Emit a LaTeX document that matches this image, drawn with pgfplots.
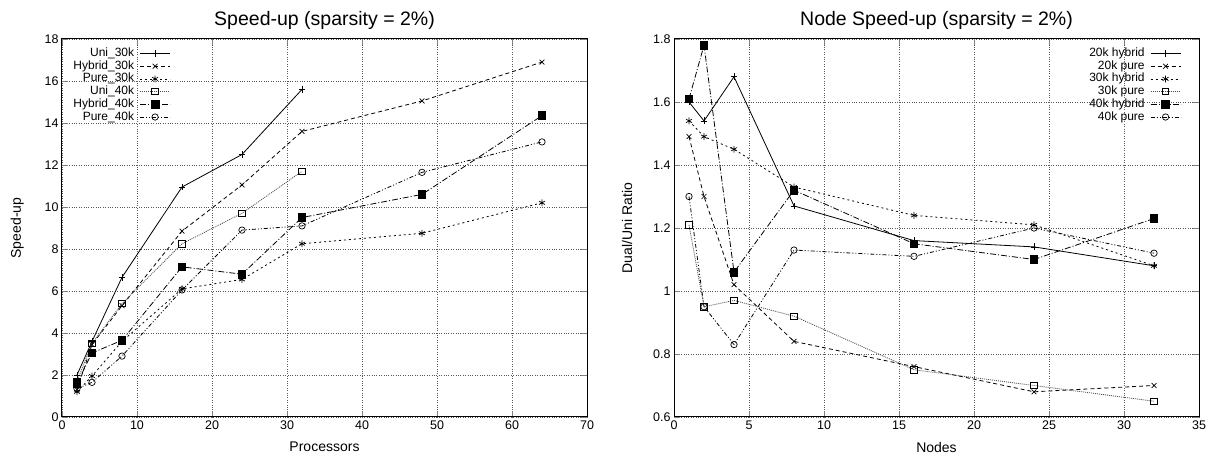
\documentclass[border=0pt]{standalone}
\usepackage{pgfplots}
\pgfplotsset{compat=1.18}
\usepackage{fontspec}
\setmainfont{Liberation Sans}
\begin{document}
\begin{tikzpicture}[x=1pt,y=1pt]
\useasboundingbox (0,0) rectangle (1215,457);
\pgfplotsset{
  myaxis/.style={
    scale only axis, width=525pt, height=378pt,
    axis line style={line width=1pt},
    tick align=inside, tickpos=both,
    major tick length=6pt,
    grid=major,
    major grid style={dotted, gray!70!black, line width=0.6pt},
    tick label style={font=\fontsize{12.5}{14}\selectfont},
    /pgf/number format/assume math mode=true,
    label style={font=\fontsize{14}{16}\selectfont},
    title style={font=\fontsize{19.5}{22}\selectfont, yshift=0pt},
    legend style={draw=none, fill=none, font=\fontsize{12}{13}\selectfont,
      legend cell align=right, row sep=0.7pt, inner sep=0pt,
      nodes={inner sep=0.5pt, text height=8.5pt, text depth=2.5pt}},
    legend plot pos=right,
    legend image code/.code={%
      \path (0pt,0pt);
      \draw[mark repeat=2,mark phase=2] plot coordinates {(5pt,0pt) (20pt,0pt) (35pt,0pt)};},
    every axis plot/.append style={line width=0.8pt, black, mark options={solid, line width=0.7pt}},
    xlabel style={yshift=-6pt},
    ylabel style={yshift=14pt},
  },
  s1/.style={solid, mark=+, mark size=3.4pt},
  s2/.style={dash pattern=on 4pt off 3pt, mark=x, mark size=3.4pt},
  s3/.style={dash pattern=on 2pt off 3pt, mark=asterisk, mark size=3.4pt},
  s4/.style={dash pattern=on 1pt off 1pt, mark=square, mark size=3.2pt, draw=black!70, mark options={solid, draw=black}},
  s5/.style={dash pattern=on 6pt off 2pt on 1pt off 2pt, mark=square*, mark size=3.8pt},
  s6/.style={dash pattern=on 4pt off 2pt on 1pt off 2pt on 1pt off 2pt, mark=o, mark size=3.2pt},
}
\begin{axis}[myaxis, at={(62pt,40pt)}, anchor=south west,
  xmin=0, xmax=70, ymin=0, ymax=18,
  xtick={0,10,...,70}, ytick={0,2,...,18},
  title={Speed-up (sparsity = 2\%)},
  xlabel={Processors}, ylabel={Speed-up},
  legend style={at={(0.207,0.978)}, anchor=north east}]
\addplot[s1] coordinates {(2,2.0) (4,3.6) (8,6.65) (16,10.95) (24,12.5) (32,15.6)};
\addlegendentry{Uni\_30k}
\addplot[s2] coordinates {(2,1.3) (4,3.45) (8,5.3) (16,8.85) (24,11.05) (32,13.6) (48,15.05) (64,16.9)};
\addlegendentry{Hybrid\_30k}
\addplot[s3] coordinates {(2,1.2) (4,1.95) (8,3.6) (16,6.1) (24,6.55) (32,8.25) (48,8.75) (64,10.2)};
\addlegendentry{Pure\_30k}
\addplot[s4] coordinates {(2,1.7) (4,3.5) (8,5.4) (16,8.25) (24,9.7) (32,11.7)};
\addlegendentry{Uni\_40k}
\addplot[s5] coordinates {(2,1.6) (4,3.05) (8,3.65) (16,7.15) (24,6.8) (32,9.5) (48,10.6) (64,14.35)};
\addlegendentry{Hybrid\_40k}
\addplot[s6] coordinates {(2,1.35) (4,1.65) (8,2.9) (16,6.05) (24,8.9) (32,9.1) (48,11.65) (64,13.1)};
\addlegendentry{Pure\_40k}
\end{axis}
\begin{axis}[myaxis, at={(674pt,40pt)}, anchor=south west,
  xmin=0, xmax=35, ymin=0.6, ymax=1.8,
  xtick={0,5,...,35}, ytick={0.6,0.8,1,1.2,1.4,1.6,1.8},
  yticklabels={0.6,0.8,1,1.2,1.4,1.6,1.8},
  title={Node Speed-up (sparsity = 2\%)},
  xlabel={Nodes}, ylabel={Dual/Uni Ratio},
  legend style={at={(0.966,0.978)}, anchor=north east}]
\addplot[s1] coordinates {(1,1.60) (2,1.54) (4,1.68) (8,1.27) (16,1.16) (24,1.14) (32,1.08)};
\addlegendentry{20k hybrid}
\addplot[s2] coordinates {(1,1.49) (2,1.30) (4,1.02) (8,0.84) (16,0.76) (24,0.68) (32,0.70)};
\addlegendentry{20k pure}
\addplot[s3] coordinates {(1,1.54) (2,1.49) (4,1.45) (8,1.33) (16,1.24) (24,1.21) (32,1.08)};
\addlegendentry{30k hybrid}
\addplot[s4] coordinates {(1,1.21) (2,0.95) (4,0.97) (8,0.92) (16,0.75) (24,0.70) (32,0.65)};
\addlegendentry{30k pure}
\addplot[s5] coordinates {(1,1.61) (2,1.78) (4,1.06) (8,1.32) (16,1.15) (24,1.10) (32,1.23)};
\addlegendentry{40k hybrid}
\addplot[s6] coordinates {(1,1.30) (2,0.95) (4,0.83) (8,1.13) (16,1.11) (24,1.20) (32,1.12)};
\addlegendentry{40k pure}
\end{axis}
\end{tikzpicture}
\end{document}
